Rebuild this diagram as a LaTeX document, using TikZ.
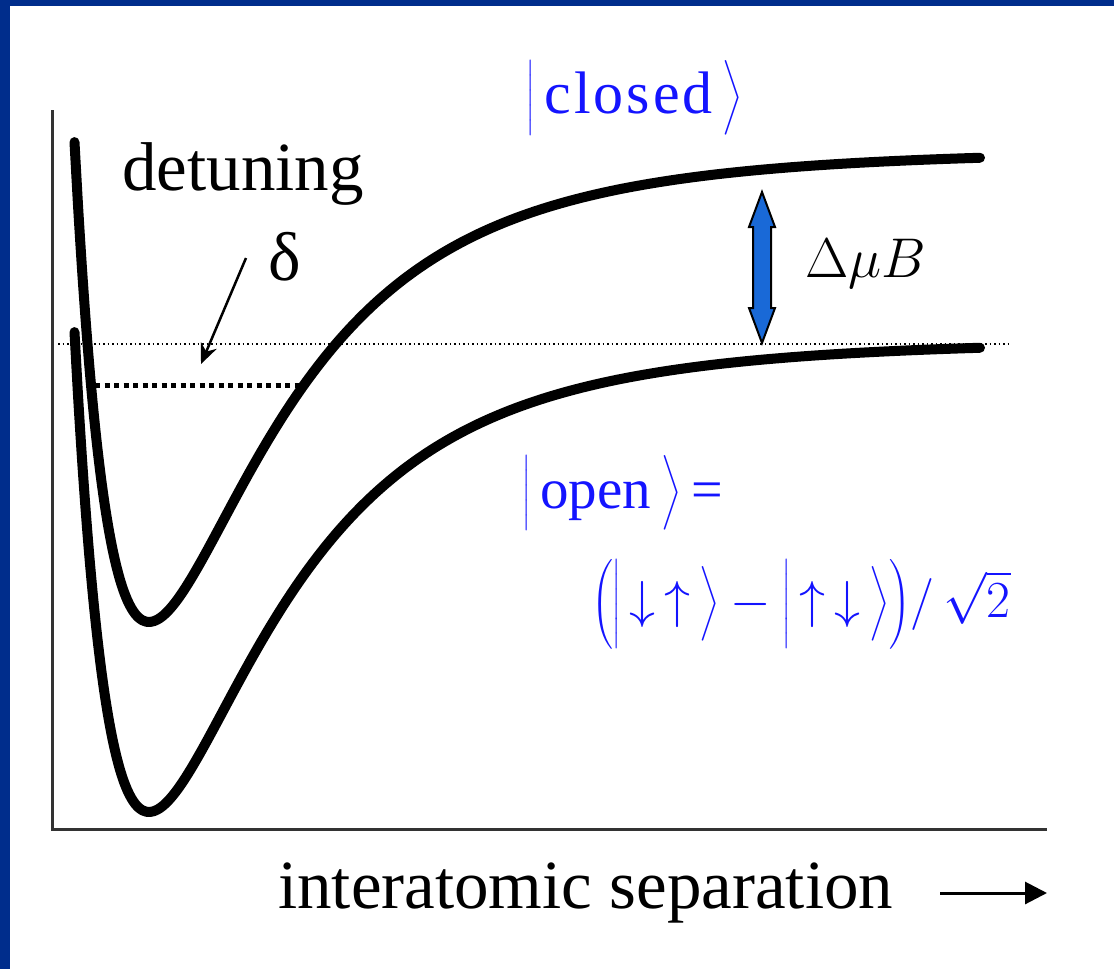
\documentclass[tikz,border=0pt]{standalone}
\usepackage{fix-cm}
\usepackage{amsmath}
\usepackage{fontspec}
\setmainfont{Liberation Serif}
\newfontfamily\ketfont[LetterSpace=5]{Liberation Serif}
\usetikzlibrary{arrows.meta, calc}
\definecolor{frameblue}{RGB}{0,45,140}
\definecolor{arrowblue}{RGB}{25,105,215}
\definecolor{ketblue}{RGB}{20,20,255}

\begin{document}
\begin{tikzpicture}[x=1pt, y=-1pt, >=Stealth,
    declare function={ljpot(\r)=150-472*((679/(\r+530))^12-2*(679/(\r+530))^6);},
    potential/.style={line width=10pt, line cap=round, line join=round},
    axisline/.style={line width=3pt, black!80},
    txt/.style={inner sep=0pt, anchor=base west, font=\fontsize{69}{80}\selectfont},
    ket/.style={inner sep=0pt, anchor=base west, text=ketblue, font=\fontsize{60}{70}\selectfont}]

    \useasboundingbox (0,0) rectangle (1114,969);
    \fill[white] (0,0) rectangle (1114,969);

    % blue frame (top and left)
    \fill[frameblue] (0,0) rectangle (1114,6);
    \fill[frameblue] (0,0) rectangle (10,969);

    % axes
    \coordinate (ytop) at (52,110);
    \coordinate (xend) at (1047,829);
    \draw[axisline] (ytop) |- (xend);

    % threshold of the open channel (thin dotted)
    \coordinate (thl) at (58,344);
    \coordinate (thr) at (1010,344);
    \draw[line width=1.5pt, dash pattern=on 1.5pt off 3pt] (thl) -- (thr);

    % closed and open channel potentials (same shape, shifted)
    \foreach \off in {0,190}
        \draw[potential, shift={(0,\off)}] plot[domain=74.5:980, samples=240, smooth]
            (\x, {ljpot(\x)});

    % bound state of the closed channel (thick dashed)
    \coordinate (bsl) at (95,385);
    \coordinate (bsr) at (300,385);
    \draw[line width=5pt, dash pattern=on 5pt off 4.5pt] (bsl) -- (bsr);

    % detuning label and arrow
    \node[txt] (detune) at (122,190) {detuning};
    \node[txt] (delta) at (268,280) {δ};
    \coordinate (dtail) at (246,258);
    \coordinate (dtip) at (201,364);
    \draw[-{Stealth[length=20pt, width=17pt]}, line width=2.5pt] (dtail) -- (dtip);

    % Zeeman shift: blue double arrow
    \coordinate (gtop) at (762,192);
    \coordinate (gbot) at (762,343);
    \filldraw[fill=arrowblue, draw=black, line width=2pt, line join=miter]
        (gtop) -- ++(13,35) -- ++(-4,0) -- ($(gbot)+(9,-35)$) -- ++(4,0) -- (gbot)
        -- ++(-13,-35) -- ++(4,0) -- ($(gtop)+(-9,35)$) -- ++(-4,0) -- cycle;
    \node[inner sep=0pt, anchor=base west, font=\fontsize{56}{66}\selectfont] (dmb) at (805,277) {$\Delta\mu B$};

    % channel states
    \node[ket] (closedlbl) at (526,113) {$\bigl|\,\mbox{\ketfont closed}\,\bigr\rangle$};
    \node[ket] (openlbl) at (522,508)
        {$\bigl|\,\mbox{\fontsize{57}{60}\selectfont open}\,\bigr\rangle\,\mbox{\fontsize{56}{60}\selectfont =}$};
    \node[ket, font=\fontsize{52}{62}\selectfont] (openstate) at (591,617)
        {$\Bigl(\Bigl|\,{\downarrow}\,{\uparrow}\,\Bigr\rangle - \Bigl|\,{\uparrow}\,{\downarrow}\,\Bigr\rangle\Bigr)/\,\sqrt{2}$};

    % horizontal axis label
    \node[txt] (xlabel) at (278,908) {interatomic separation};
    \coordinate (xa) at (940,893);
    \coordinate (xb) at (1047,893);
    \draw[-{Triangle[length=22pt, width=22pt]}, line width=3pt] (xa) -- (xb);

\end{tikzpicture}
\end{document}
